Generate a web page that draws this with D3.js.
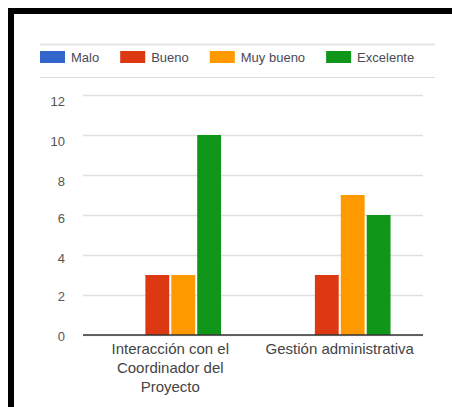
<!DOCTYPE html>
<html>
<head>
<meta charset="utf-8">
<script src="https://cdn.jsdelivr.net/npm/d3@7"></script>
<style>
  html, body { margin: 0; padding: 0; background: #fff; }
  svg { display: block; font-family: "Liberation Sans", Arial, sans-serif; }
</style>
</head>
<body>
<svg id="chart" width="452" height="407"></svg>
<script>
const categories = ["Interacción con el Coordinador del Proyecto", "Gestión administrativa"];
const seriesNames = ["Malo", "Bueno", "Muy bueno", "Excelente"];
const seriesColors = ["#3366cc", "#dc3912", "#ff9900", "#109618"];
const malo = [0, 0];
const bueno = [3, 3];
const muyBueno = [3, 7];
const excelente = [10, 6];
const yTicks = [0, 2, 4, 6, 8, 10, 12];

const seriesValues = [malo, bueno, muyBueno, excelente];

const svg = d3.select("#chart");

// black frame (top and left)
svg.append("rect").attr("x", 8).attr("y", 8).attr("width", 444).attr("height", 6).attr("fill", "#000");
svg.append("rect").attr("x", 8).attr("y", 8).attr("width", 6).attr("height", 399).attr("fill", "#000");

// legend
svg.append("line").attr("x1", 40).attr("x2", 435).attr("y1", 44.5).attr("y2", 44.5)
  .attr("stroke", "#e6e6e6").attr("stroke-width", 2);
svg.append("line").attr("x1", 40).attr("x2", 435).attr("y1", 77.5).attr("y2", 77.5)
  .attr("stroke", "#dcdcdc").attr("stroke-width", 1.2);

let lx = 40;
seriesNames.forEach((name, i) => {
  svg.append("rect").attr("x", lx).attr("y", 51).attr("width", 25).attr("height", 12)
    .attr("fill", seriesColors[i]);
  const t = svg.append("text").attr("x", lx + 31).attr("y", 61.5)
    .attr("font-size", 13).attr("fill", "#4a4a55").text(name);
  lx = lx + 31 + t.node().getComputedTextLength() + 21;
});

// scales
const y = d3.scaleLinear().domain([0, 12]).range([335, 95]);
const x0 = d3.scaleBand().domain(categories).range([85.5, 424.5]).padding(0);
const x1 = d3.scaleBand().domain(seriesNames).range([0, x0.bandwidth()])
  .paddingInner(0.08).paddingOuter(1.31);

// gridlines
const grid = svg.append("g").attr("transform", "translate(83,0)")
  .call(d3.axisLeft(y).tickValues(yTicks).tickSize(-340).tickFormat(""));
grid.select(".domain").remove();
grid.selectAll(".tick line").attr("stroke", "#e0e0e0").attr("stroke-width", 1.5);

// y tick labels
const yAxis = svg.append("g").attr("transform", "translate(83,0)")
  .call(d3.axisLeft(y).tickValues(yTicks).tickSize(0).tickPadding(18));
yAxis.select(".domain").remove();
yAxis.selectAll(".tick text")
  .attr("font-family", "Liberation Sans, Arial, sans-serif")
  .attr("font-size", 13).attr("fill", "#555")
  .attr("dy", (d) => (0.32 + d * -0.0 ) + "em")
  .attr("transform", (d) => "translate(0," + (d >= 8 ? 6 : d >= 4 ? 3 : 1) + ")");

// bars
const groups = svg.append("g").selectAll("g").data(categories).join("g")
  .attr("transform", (d) => "translate(" + x0(d) + ",0)");
groups.selectAll("rect")
  .data((d, ci) => seriesNames.map((s, si) => ({ s, v: seriesValues[si][ci], c: seriesColors[si] })))
  .join("rect")
  .attr("x", (d) => x1(d.s))
  .attr("width", x1.bandwidth())
  .attr("y", (d) => y(d.v))
  .attr("height", (d) => y(0) - y(d.v))
  .attr("fill", (d) => d.c);

// baseline
svg.append("line").attr("x1", 83).attr("x2", 423).attr("y1", y(0)).attr("y2", y(0))
  .attr("stroke", "#333").attr("stroke-width", 1.5);

// x labels with wrapping
const xAxis = svg.append("g").attr("transform", "translate(0," + y(0) + ")")
  .call(d3.axisBottom(x0).tickSize(0).tickPadding(0));
xAxis.select(".domain").remove();
xAxis.selectAll(".tick text").each(function (d) {
  const text = d3.select(this);
  text.text(null).attr("font-family", "Liberation Sans, Arial, sans-serif")
    .attr("font-size", 15).attr("fill", "#444").attr("y", 0).attr("dy", null);
  const words = d.split(" ");
  const maxW = 155;
  let line = [];
  let lineNo = 0;
  let tspan = text.append("tspan").attr("x", 0).attr("y", 19);
  words.forEach((w) => {
    line.push(w);
    tspan.text(line.join(" "));
    if (tspan.node().getComputedTextLength() > maxW && line.length > 1) {
      line.pop();
      tspan.text(line.join(" "));
      line = [w];
      lineNo++;
      tspan = text.append("tspan").attr("x", 0).attr("y", 19 + lineNo * 19).text(w);
    }
  });
});
</script>
</body>
</html>
